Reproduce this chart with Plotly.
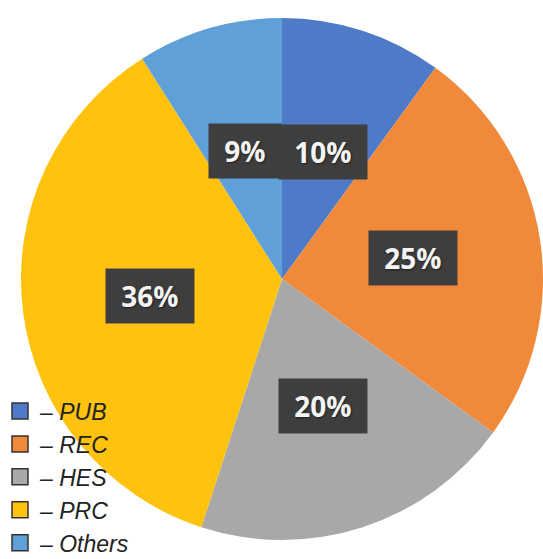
import math
import plotly.graph_objects as go

categories = ["PUB", "REC", "HES", "PRC", "Others"]
values = [10, 25, 20, 36, 9]
colors = ["#4E7AC7", "#F08A3A", "#A8A8A8", "#FFC20E", "#5FA0D8"]

W, H = 543, 559
cx, cy, R = 282, 279, 261  # pixel center (from top) and radius

fig = go.Figure()
fig.add_trace(go.Pie(
    labels=categories, values=values, sort=False, direction="clockwise", rotation=0,
    marker=dict(colors=colors, line=dict(width=0)),
    textinfo="none", hoverinfo="label+percent", showlegend=False,
    domain=dict(x=[(cx - R) / W, (cx + R) / W], y=[(H - cy - R) / H, (H - cy + R) / H]),
))

# legend entries via empty square markers
for cat, col in zip(categories, colors):
    fig.add_trace(go.Scatter(
        x=[None], y=[None], mode="markers", name="\u2013 " + cat,
        marker=dict(symbol="square", size=19, color=col, line=dict(color="#333333", width=1.5)),
    ))

# percentage labels at mid-angles
total = sum(values)
cum = 0
nb = "\u00a0"
for v in values:
    mid = (cum + v / 2) / total * 2 * math.pi
    cum += v
    px = cx + 0.51 * R * math.sin(mid)
    py = cy - 0.51 * R * math.cos(mid)
    xp, yp = px / W, 1 - py / H
    txt = nb + f"{v}%" + nb
    fig.add_annotation(x=xp, y=yp, xref="paper", yref="paper", text=txt, showarrow=False,
                       xanchor="center", yanchor="middle",
                       bgcolor="#3E3E3E", borderpad=8,
                       font=dict(family="Open Sans", size=28, color="#F4F4F4", weight="bold",
                                 shadow="1px 1px 2px rgba(0,0,0,0.5)"))

fig.update_layout(
    width=W, height=H, margin=dict(l=0, r=0, t=0, b=0, autoexpand=False),
    paper_bgcolor="white", plot_bgcolor="rgba(0,0,0,0)",
    xaxis=dict(visible=False), yaxis=dict(visible=False),
    legend=dict(x=0, y=-0.01, xanchor="left", yanchor="bottom", bgcolor="rgba(0,0,0,0)",
                font=dict(family="Liberation Sans", size=23, color="#222222", style="italic"),
                itemsizing="trace", tracegroupgap=0),
)

fig.write_html("out.html", config={"displayModeBar": False},
               post_script="document.body.style.margin='0';document.body.style.overflow='hidden';")
